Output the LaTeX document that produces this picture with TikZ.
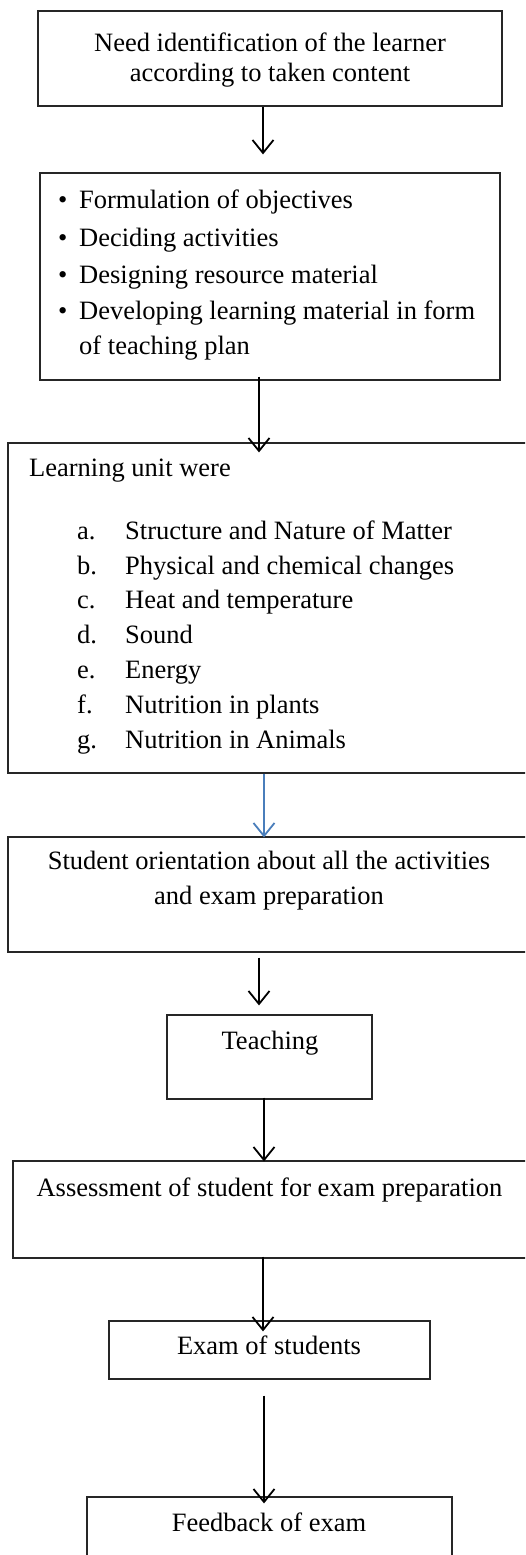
\documentclass[tikz,border=0pt]{standalone}
\usepackage{fontspec}
\setmainfont{Liberation Serif}
\usetikzlibrary{arrows.meta}
\definecolor{wordblue}{RGB}{74,126,187}
\newcommand{\bul}{\makebox[21pt][l]{\textbullet}}
\begin{document}
\begin{tikzpicture}[x=1pt,y=1pt,
  box/.style={draw=black!85,line width=1.2pt,rectangle,inner sep=0pt},
  txt/.style={inner sep=0pt,yshift=-4pt,font=\fontsize{26.5}{30}\selectfont},
  arr/.style={line width=1.8pt,-{Straight Barb[length=13pt,width=21pt,line width=1.8pt]}}]
\clip (0,0) rectangle (525,-1555);
\fill[white] (0,0) rectangle (525,-1555);
% boxes
\node[box,minimum width=464pt,minimum height=95pt] (b1) at (270,-58.5) {};
\node[box,minimum width=460pt,minimum height=207pt] (b2) at (270,-276.5) {};
\node[box,minimum width=532pt,minimum height=330pt] (b3) at (274,-608) {};
\node[box,minimum width=532pt,minimum height=115pt] (b4) at (274,-894.5) {};
\node[box,minimum width=205pt,minimum height=84pt] (b5) at (269.5,-1057) {};
\node[box,minimum width=527pt,minimum height=97pt] (b6) at (276.5,-1209.5) {};
\node[box,minimum width=321pt,minimum height=58pt] (b7) at (269.5,-1350) {};
\node[box,minimum width=365pt,minimum height=103pt] (b8) at (269.5,-1548.5) {};
% texts
\node[txt,anchor=mid] (t1a) at (270,-45) {Need identification of the learner};
\node[txt,anchor=mid] (t1b) at (270,-75) {according to taken content};
\node[txt,anchor=mid west] (t2a) at (58,-202) {\bul Formulation of objectives};
\node[txt,anchor=mid west] (t2b) at (58,-240) {\bul Deciding activities};
\node[txt,anchor=mid west] (t2c) at (58,-277) {\bul Designing resource material};
\node[txt,anchor=mid west] (t2d) at (58,-313) {\bul Developing learning material in form};
\node[txt,anchor=mid west] (t2e) at (79,-348) {of teaching plan};
\node[txt,anchor=mid west] (t3) at (29,-470) {Learning unit were};
\foreach \l/\t [count=\i from 0] in {a./Structure and Nature of Matter,b./Physical and chemical changes,c./Heat and temperature,d./Sound,e./Energy,f./Nutrition in plants,g./Nutrition in Animals}{
  \node[txt,anchor=mid west] (l\i) at (77,-533-34.8*\i) {\l};
  \node[txt,anchor=mid west] (i\i) at (125,-533-34.8*\i) {\t};
}
\node[txt,anchor=mid] (t4a) at (269,-863) {Student orientation about all the activities};
\node[txt,anchor=mid] (t4b) at (269,-898) {and exam preparation};
\node[txt,anchor=mid] (t5) at (270,-1043) {Teaching};
\node[txt,anchor=mid] (t6) at (269.5,-1190) {Assessment of student for exam preparation};
\node[txt,anchor=mid] (t7) at (269,-1348) {Exam of students};
\node[txt,anchor=mid] (t8) at (269,-1525) {Feedback of exam};
% connectors
\draw[arr] ([xshift=-7pt]b1.south) -- ([xshift=-7pt,yshift=18pt]b2.north);
\draw[arr] ([xshift=-11pt,yshift=4pt]b2.south) -- ([xshift=-15pt,yshift=-10pt]b3.north);
\draw[arr,draw=wordblue,line width=1.5pt] ([xshift=-10pt]b3.south) -- ([xshift=-10pt,yshift=-1pt]b4.north);
\draw[arr] ([xshift=-15pt,yshift=-5pt]b4.south) -- ([xshift=-10.5pt,yshift=9pt]b5.north);
\draw[arr] ([xshift=-5.5pt,yshift=2pt]b5.south) -- ([xshift=-12.5pt,yshift=-1pt]b6.north);
\draw[arr] ([xshift=-13.5pt,yshift=2pt]b6.south) -- ([xshift=-6.5pt,yshift=-11pt]b7.north);
\draw[arr] ([xshift=-5.5pt,yshift=-16pt]b7.south) -- ([xshift=-5.5pt,yshift=-7pt]b8.north);
\end{tikzpicture}
\end{document}
